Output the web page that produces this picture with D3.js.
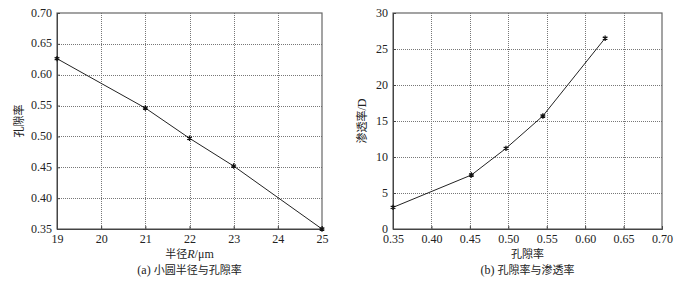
<!DOCTYPE html>
<html><head><meta charset="utf-8">
<script src="https://cdn.jsdelivr.net/npm/d3@7"></script>
<style>
html,body{margin:0;padding:0;background:#fff;}
svg{display:block;}
</style></head>
<body>
<script>
// Chart (a)
const radius = [19, 21, 22, 23, 25];
const porosityA = [0.626, 0.546, 0.497, 0.452, 0.350];
const xTicksA = [19, 20, 21, 22, 23, 24, 25];
const yTicksA = [0.35, 0.40, 0.45, 0.50, 0.55, 0.60, 0.65, 0.70];
// Chart (b)
const porosityB = [0.350, 0.452, 0.497, 0.545, 0.626];
const permeability = [3.0, 7.5, 11.2, 15.7, 26.5];
const xTicksB = [0.35, 0.40, 0.45, 0.50, 0.55, 0.60, 0.65, 0.70];
const yTicksB = [0, 5, 10, 15, 20, 25, 30];

const SERIF = '"Liberation Serif"';
const CJK = '"Noto Sans CJK SC"';

const svg = d3.select("body").append("svg").attr("width", 680).attr("height", 284);
svg.append("rect").attr("width", 680).attr("height", 284).attr("fill", "#fff");

function panel(opt) {
  const x = d3.scaleLinear().domain(opt.xDomain).range([opt.x0, opt.x1]);
  const y = d3.scaleLinear().domain(opt.yDomain).range([opt.y1, opt.y0]);
  const g = svg.append("g");
  // grid
  g.append("g").selectAll("line").data(opt.xTicks.slice(1, -1)).join("line")
    .attr("x1", d => Math.round(x(d)) + 0.5).attr("x2", d => Math.round(x(d)) + 0.5)
    .attr("y1", opt.y0).attr("y2", opt.y1)
    .attr("stroke", "#777").attr("stroke-width", 1).attr("stroke-dasharray", "1,1");
  g.append("g").selectAll("line").data(opt.yTicks.slice(1, -1)).join("line")
    .attr("y1", d => Math.round(y(d)) + 0.5).attr("y2", d => Math.round(y(d)) + 0.5)
    .attr("x1", opt.x0).attr("x2", opt.x1)
    .attr("stroke", "#777").attr("stroke-width", 1).attr("stroke-dasharray", "1,1");
  // frame
  g.append("rect").attr("x", opt.x0).attr("y", opt.y0)
    .attr("width", opt.x1 - opt.x0).attr("height", opt.y1 - opt.y0)
    .attr("fill", "none").attr("stroke", "#666").attr("stroke-width", 1.2);
  // axes via d3
  const xa = g.append("g").attr("transform", `translate(0,${opt.y1})`)
    .call(d3.axisBottom(x).tickValues(opt.xTicks).tickFormat(opt.xFmt).tickSize(-3).tickPadding(5));
  const ya = g.append("g").attr("transform", `translate(${opt.x0},0)`)
    .call(d3.axisLeft(y).tickValues(opt.yTicks).tickFormat(opt.yFmt).tickSize(-3).tickPadding(5));
  [xa, ya].forEach(a => {
    a.attr("font-family", SERIF).attr("font-size", 12);
    a.select(".domain").attr("stroke", "#444");
    a.selectAll(".tick line").attr("stroke", "#444");
    a.selectAll("text").style("font-family", SERIF).style("font-size", "12px").attr("fill", "#222");
  });
  ya.selectAll("text").attr("dy", "0.25em");
  // line
  const pts = opt.xs.map((v, i) => [v, opt.ys[i]]);
  g.append("path").datum(pts)
    .attr("d", d3.line().x(d => x(d[0])).y(d => y(d[1])))
    .attr("fill", "none").attr("stroke", "#222").attr("stroke-width", 1);
  g.append("g").selectAll("path").data(pts).join("path")
    .attr("transform", d => `translate(${x(d[0])},${y(d[1])})`)
    .attr("d", d3.symbol(d3.symbolAsterisk, 20))
    .attr("fill", "none").attr("stroke", "#111").attr("stroke-width", 1.3);
  // titles
  const cx = (opt.x0 + opt.x1) / 2;
  const xt = g.append("text").attr("x", cx).attr("y", 258).attr("text-anchor", "middle")
    .style("font-family", CJK).style("font-size", "11px").attr("fill", "#222");
  opt.xTitle(xt);
  const cap = g.append("text").attr("x", cx).attr("y", 274).attr("text-anchor", "middle")
    .style("font-family", CJK).style("font-size", "11px").attr("fill", "#222");
  cap.append("tspan").style("font-family", SERIF).style("font-size", "12px").text(opt.capLetter + " ");
  cap.append("tspan").text(opt.caption);
  g.append("text").attr("transform", `translate(${opt.yTitleX},${(opt.y0 + opt.y1) / 2}) rotate(-90)`)
    .attr("text-anchor", "middle").attr("dy", "0.35em")
    .style("font-family", CJK).style("font-size", "11px").attr("fill", "#222").call(opt.yTitle);
}

panel({
  x0: 57, x1: 322, y0: 13, y1: 229,
  xDomain: [19, 25], yDomain: [0.35, 0.70],
  xTicks: xTicksA, yTicks: yTicksA,
  xFmt: d3.format("d"), yFmt: d3.format(".2f"),
  xs: radius, ys: porosityA,
  xTitle: t => { t.append("tspan").text("半径");
    t.append("tspan").style("font-family", SERIF).style("font-style", "italic").style("font-size", "12px").text("R");
    t.append("tspan").style("font-family", SERIF).style("font-size", "12px").text("/μm"); },
  capLetter: "(a)", caption: "小圆半径与孔隙率",
  yTitle: t => t.text("孔隙率"), yTitleX: 19
});

panel({
  x0: 393, x1: 662, y0: 13, y1: 229,
  xDomain: [0.35, 0.70], yDomain: [0, 30],
  xTicks: xTicksB, yTicks: yTicksB,
  xFmt: d3.format(".2f"), yFmt: d3.format("d"),
  xs: porosityB, ys: permeability,
  xTitle: t => t.text("孔隙率"),
  capLetter: "(b)", caption: "孔隙率与渗透率",
  yTitle: t => { t.append("tspan").text("渗透率");
    t.append("tspan").style("font-family", SERIF).style("font-size", "12px").text("/D"); },
  yTitleX: 362
});
</script>
</body></html>
